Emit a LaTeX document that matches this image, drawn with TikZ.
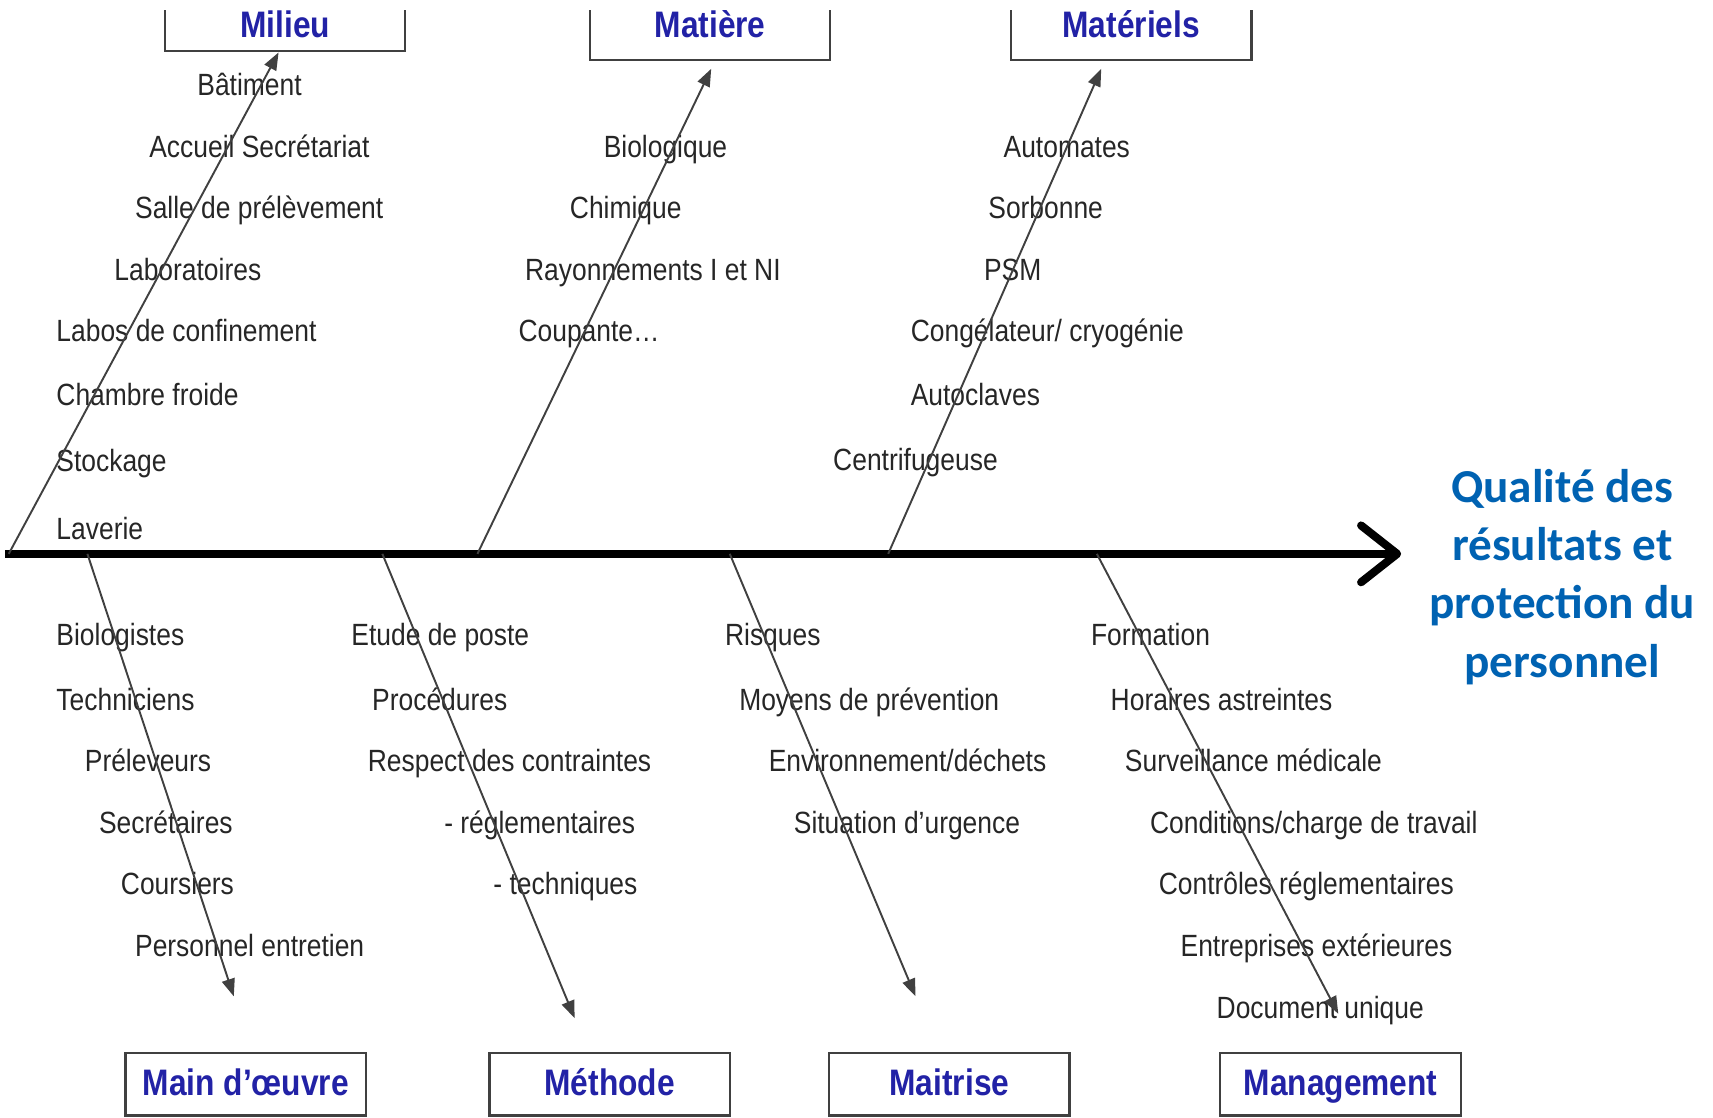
\documentclass[tikz,border=0pt]{standalone}
\usepackage{fontspec}
\usepackage{xcolor}
\usepackage{tikz}
\usetikzlibrary{arrows.meta,positioning,calc}

\newfontfamily\itemfont{Liberation Sans}[FakeStretch=0.86]
\newfontfamily\effetfont{Carlito}
\definecolor{titreblue}{RGB}{34,34,166}
\definecolor{effetblue}{RGB}{0,98,178}

\begin{document}
\begin{tikzpicture}[
  x=1cm,
  y=1cm,
  >=Latex,
  spine/.style={-{Straight Barb[length=3.3mm,width=5.2mm,round]}, line width=2.1pt, draw=black},
  bone/.style={-{Triangle[length=1.6mm,width=1.2mm]}, line width=0.5pt, draw=black!75},
  cause/.style={draw=black!75, line width=0.6pt, fill=white, minimum width=22mm,
    inner sep=0pt, text height=0.74em, text depth=0.16em,
    font=\itemfont\fontsize{9.6}{11}\selectfont\bfseries, text=titreblue},
  item/.style={anchor=base west, inner sep=0pt, font=\itemfont\fontsize{8}{9.6}\selectfont, text=black!85},
  effet/.style={align=center, inner sep=2.5mm, text=effetblue,
    font=\effetfont\bfseries\fontsize{12.3}{15.2}\selectfont}
]

\useasboundingbox (0,0) rectangle (15.68,10.23);
\clip (0,0) rectangle (15.68,10.13);

% categories
\node[cause, minimum height=4.6mm] (milieu) at (2.61,9.99) {Milieu};
\node[cause, minimum height=6.2mm] (matiere) at (6.50,9.99) {Matière};
\node[cause, minimum height=6.2mm] (materiels) at (10.355,9.99) {Matériels};
\node[cause, minimum height=5.7mm] (mainoeuvre) at (2.25,0.305) {Main d’œuvre};
\node[cause, minimum height=5.7mm] (methode) at (5.58,0.305) {Méthode};
\node[cause, minimum height=5.7mm] (maitrise) at (8.69,0.305) {Maitrise};
\node[cause, minimum height=5.7mm] (management) at (12.27,0.305) {Management};

% effect
\node[effet] (effet) at (14.30,4.95)
  {Qualité des\\résultats et\\protection du\\personnel};

% spine
\coordinate (tail) at (0.05,5.16);
\draw[spine] (tail) -- (tail -| effet.west);

% Milieu
\node[item] (batiment) at (1.80,9.36) {Bâtiment};
\node[item] (accueil) at (1.36,8.79) {Accueil Secrétariat};
\node[item] (salle) at (1.23,8.23) {Salle de prélèvement};
\node[item] (labos) at (1.04,7.66) {Laboratoires};
\node[item] (confinement) at (0.51,7.10) {Labos de confinement};
\node[item] (chambre) at (0.51,6.52) {Chambre froide};
\node[item] (stockage) at (0.51,5.91) {Stockage};
\node[item] (laverie) at (0.51,5.29) {Laverie};

% Matiere
\node[item] (biologique) at (5.52,8.79) {Biologique};
\node[item] (chimique) at (5.21,8.23) {Chimique};
\node[item] (rayonnements) at (4.80,7.66) {Rayonnements I et NI};
\node[item] (coupante) at (4.74,7.10) {Coupante\ldots};

% Materiels
\node[item] (automates) at (9.18,8.79) {Automates};
\node[item] (sorbonne) at (9.04,8.23) {Sorbonne};
\node[item] (psm) at (9.00,7.66) {PSM};
\node[item] (congelateur) at (8.33,7.10) {Congélateur/ cryogénie};
\node[item] (autoclaves) at (8.33,6.52) {Autoclaves};
\node[item] (centrifugeuse) at (7.62,5.92) {Centrifugeuse};

% Main d'oeuvre
\node[item] (biologistes) at (0.51,4.32) {Biologistes};
\node[item] (techniciens) at (0.51,3.73) {Techniciens};
\node[item] (preleveurs) at (0.77,3.17) {Préleveurs};
\node[item] (secretaires) at (0.90,2.60) {Secrétaires};
\node[item] (coursiers) at (1.10,2.04) {Coursiers};
\node[item] (entretien) at (1.23,1.47) {Personnel entretien};

% Methode
\node[item] (etude) at (3.21,4.32) {Etude de poste};
\node[item] (procedures) at (3.40,3.73) {Procédures};
\node[item] (respect) at (3.36,3.17) {Respect des contraintes};
\node[item] (reglement) at (4.06,2.60) {- réglementaires};
\node[item] (techniques) at (4.51,2.04) {- techniques};

% Maitrise
\node[item] (risques) at (6.63,4.32) {Risques};
\node[item] (moyens) at (6.76,3.73) {Moyens de prévention};
\node[item] (environnement) at (7.03,3.17) {Environnement/déchets};
\node[item] (urgence) at (7.26,2.60) {Situation d’urgence};

% Management
\node[item] (formation) at (9.98,4.32) {Formation};
\node[item] (horaires) at (10.16,3.73) {Horaires astreintes};
\node[item] (surveillance) at (10.29,3.17) {Surveillance médicale};
\node[item] (conditions) at (10.52,2.60) {Conditions/charge de travail};
\node[item] (controles) at (10.60,2.04) {Contrôles réglementaires};
\node[item] (entreprises) at (10.80,1.47) {Entreprises extérieures};
\node[item] (document) at (11.13,0.91) {Document unique};

% bones
\coordinate (milieu-0) at (0.08,5.16);
\coordinate (matiere-0) at (4.37,5.16);
\coordinate (materiels-0) at (8.13,5.16);
\coordinate (mainoeuvre-0) at (0.80,5.16);
\coordinate (methode-0) at (3.50,5.16);
\coordinate (maitrise-0) at (6.68,5.16);
\coordinate (management-0) at (10.04,5.16);
\coordinate (matiere-1) at (6.51,9.60);
\coordinate (materiels-1) at (10.08,9.60);
\coordinate (mainoeuvre-1) at (2.14,1.11);
\coordinate (methode-1) at (5.26,0.91);
\coordinate (maitrise-1) at (8.38,1.11);
\coordinate (management-1) at (12.25,0.95);

\draw[bone] (milieu-0) -- ([xshift=-0.06cm]milieu.south);
\draw[bone] (matiere-0) -- (matiere-1);
\draw[bone] (materiels-0) -- (materiels-1);
\draw[bone] (mainoeuvre-0) -- (mainoeuvre-1);
\draw[bone] (methode-0) -- (methode-1);
\draw[bone] (maitrise-0) -- (maitrise-1);
\draw[bone] (management-0) -- (management-1);

\end{tikzpicture}
\end{document}
